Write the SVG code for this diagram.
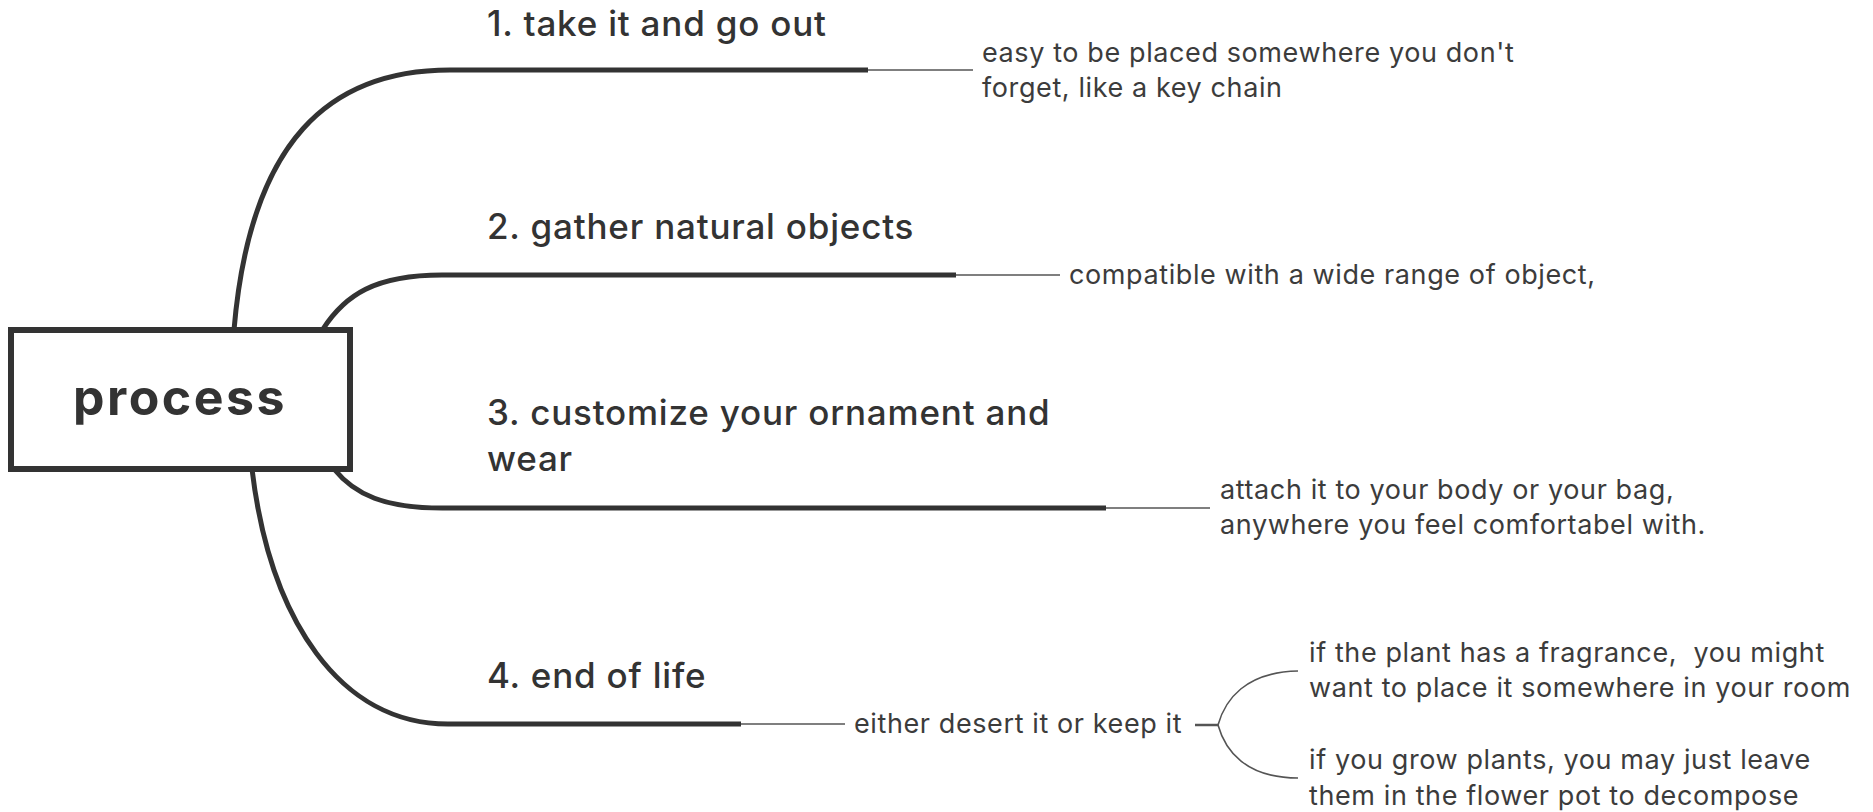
<svg xmlns="http://www.w3.org/2000/svg" width="1873" height="812" viewBox="0 0 1873 812">
<style>
.main{fill:none;stroke:#333;stroke-width:5;stroke-linecap:butt}
.thin{fill:none;stroke:#555;stroke-width:1.6}
.lbl{font-family:Inter,"Open Sans",sans-serif;font-weight:500;font-size:35px;letter-spacing:0.8px;fill:#333}
.note{font-family:Inter,"Open Sans",sans-serif;font-weight:400;font-size:27px;letter-spacing:0.6px;fill:#3c3c3c}
.root{font-family:Inter,"Open Sans",sans-serif;font-weight:700;font-size:50px;letter-spacing:2.5px;fill:#333}
</style>
<rect width="1873" height="812" fill="#fff"/>
<g id="connectors">
<path class="main" d="M234,330 C250,140 330,70 450,70 L868,70"/>
<path class="main" d="M323,329 C345,295 375,275 442,275 L956,275"/>
<path class="main" d="M334,469 C355,495 385,508 442,508 L1106,508"/>
<path class="main" d="M252,469 C270,620 340,724 448,724 L741,724"/>
<path class="thin" d="M868,70 L973,70"/>
<path class="thin" d="M956,275 L1060,275"/>
<path class="thin" d="M1106,508 L1210,508"/>
<path class="thin" d="M741,724 L845,724"/>
<path class="thin" d="M1195,725 L1218,725" style="stroke-width:2.5"/>
<path class="thin" d="M1218,725 C1225,700 1245,672 1298,671"/>
<path class="thin" d="M1218,725 C1225,750 1245,778 1298,778"/>
</g>
<g id="root">
<rect x="11" y="330" width="339" height="139" fill="#fff" stroke="#333" stroke-width="6"/>
<text class="root" x="180" y="415" text-anchor="middle">process</text>
</g>
<g id="n1"><text class="lbl" x="487" y="36">1. take it and go out</text></g>
<g id="n1a"><text class="note" x="982" y="62">easy to be placed somewhere you don't</text><text class="note" x="982" y="97">forget, like a key chain</text></g>
<g id="n2"><text class="lbl" x="487" y="239">2. gather natural objects</text></g>
<g id="n2a"><text class="note" x="1069" y="284">compatible with a wide range of object,</text></g>
<g id="n3"><text class="lbl" x="487" y="425">3. customize your ornament and</text><text class="lbl" x="487" y="471">wear</text></g>
<g id="n3a"><text class="note" x="1220" y="499">attach it to your body or your bag,</text><text class="note" x="1220" y="534">anywhere you feel comfortabel with.</text></g>
<g id="n4"><text class="lbl" x="487" y="688">4. end of life</text></g>
<g id="n4a"><text class="note" x="854" y="733">either desert it or keep it</text></g>
<g id="n4b"><text class="note" x="1309" y="662" xml:space="preserve">if the plant has a fragrance,  you might</text><text class="note" x="1309" y="697">want to place it somewhere in your room</text></g>
<g id="n4c"><text class="note" x="1309" y="769">if you grow plants, you may just leave</text><text class="note" x="1309" y="805">them in the flower pot to decompose</text></g>
</svg>
